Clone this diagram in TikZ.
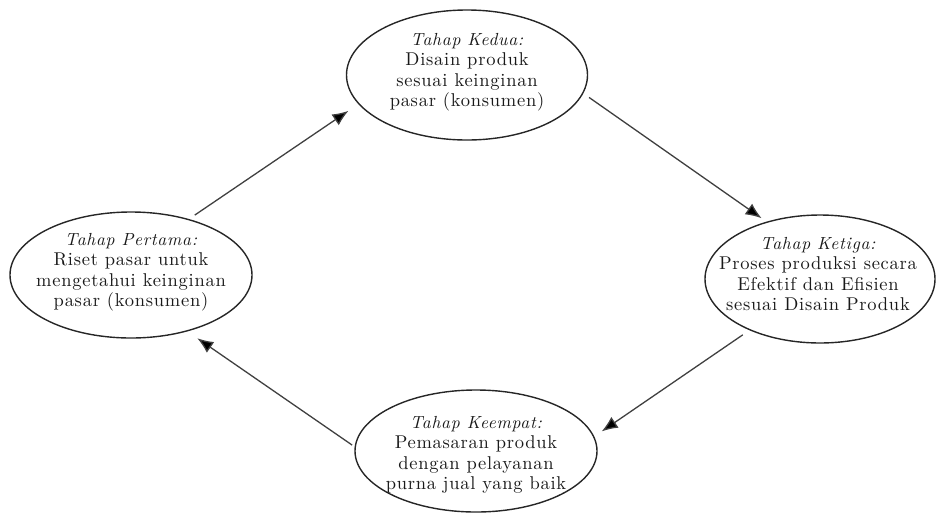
\documentclass[tikz,border=0pt]{standalone}
\usepackage{fontspec}
\newfontfamily\tahapfont{lmroman10-regular}[Extension=.otf,ItalicFont=lmroman10-italic,LetterSpace=4]
\usetikzlibrary{arrows.meta,shapes.geometric}

\tikzset{
  tahap/.style={ellipse,draw=black!85,line width=1.4pt,inner sep=0pt},
  teks/.style={align=center,font=\tahapfont\fontsize{18.5}{20.5}\selectfont,text=black!90},
  panah/.style={-{Latex[length=16pt,width=13pt,fill=black]},draw=black!75,line width=1.3pt}
}
\newcommand{\judul}[1]{{\fontsize{17.5}{20.5}\selectfont\itshape #1}}

\begin{document}
\begin{tikzpicture}[x=1pt,y=-1pt]
\useasboundingbox (0,0) rectangle (936,515);
% the four stages
  \node[tahap,minimum width=242pt,minimum height=126pt] (pertama) at (131,275) {};
  \node[tahap,minimum width=241pt,minimum height=130pt] (kedua) at (467,75) {};
  \node[tahap,minimum width=230pt,minimum height=128pt] (ketiga) at (820,279) {};
  \node[tahap,minimum width=242pt,minimum height=122pt] (keempat) at (476,451) {};
% texts
  \node[teks] (pertama-t) at (131,272) {\judul{Tahap Pertama:}\\ Riset pasar untuk\\ mengetahui keinginan\\ pasar (konsumen)};
  \node[teks] (kedua-t) at (467,72) {\judul{Tahap Kedua:}\\ Disain produk\\ sesuai keinginan\\ pasar (konsumen)};
  \node[teks] (ketiga-t) at (818,274) {\judul{Tahap Ketiga:}\\ Proses produksi secara\\ Efektif dan Efisien\\ sesuai Disain Produk};
  \node[teks] (keempat-t) at (476,455) {\judul{Tahap Keempat:}\\ Pemasaran produk\\ dengan pelayanan\\ purna jual yang baik};
% the cycle
  \draw[panah,shorten <=7pt,shorten >=12pt] (pertama.44) -- (kedua.195);
  \draw[panah,shorten <=7pt,shorten >=6pt] (kedua.-9) -- (ketiga.133);
  \draw[panah,shorten <=8pt,shorten >=9pt] (ketiga.216) -- (keempat.7);
  \draw[panah,shorten <=3pt,shorten >=12pt] (keempat.178) -- (pertama.-45);
\end{tikzpicture}
\end{document}
